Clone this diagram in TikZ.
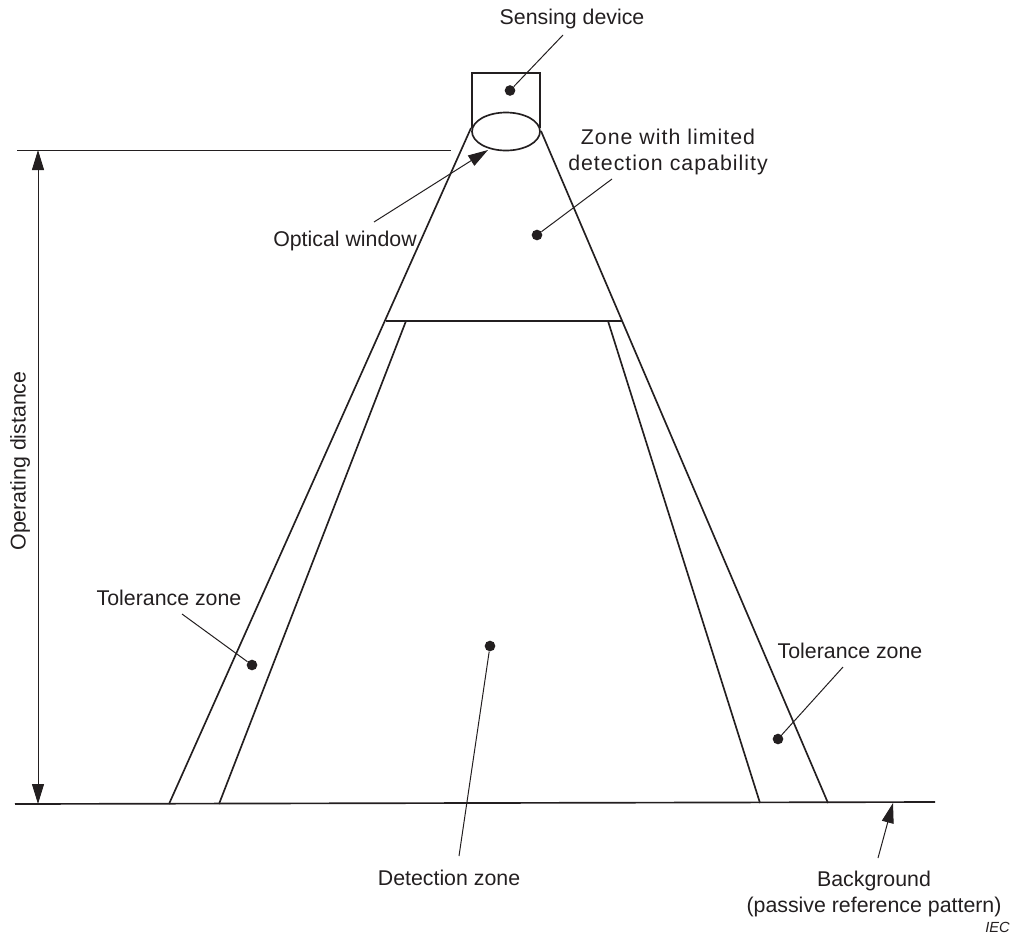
\documentclass[tikz,border=0pt]{standalone}
\usepackage{fontspec}
\setmainfont{Liberation Sans}
\usetikzlibrary{arrows.meta,shapes.geometric}
\definecolor{ink}{RGB}{35,31,32}
\tikzset{
  ln/.style={draw=ink,line width=1.25pt},
  thin ln/.style={draw=ink,line width=0.75pt},
  lbl/.style={inner sep=0pt,text=ink,font=\fontsize{16}{19.5}\selectfont,align=center},
  dotm/.style={circle,fill=ink,draw=none,minimum size=8pt,inner sep=0pt},
  tip/.style={-{Triangle[length=15pt,width=9pt]}},
  tips/.style={{Triangle[length=15pt,width=9pt]}-{Triangle[length=15pt,width=9pt]}}
}
\begin{document}
\begin{tikzpicture}[x=0.75pt,y=-0.75pt]
\useasboundingbox (0,0) rectangle (1013,936);
% coordinates
\coordinate (boxTL) at (472,128);
\coordinate (boxTLt) at (472,73);
\coordinate (boxTRt) at (540,73);
\coordinate (boxTR) at (540,128);
\coordinate (outL) at (471,128);
\coordinate (outLb) at (169,804);
\coordinate (outR) at (541,131);
\coordinate (outRb) at (828,803);
\coordinate (midL) at (386,321);
\coordinate (midR) at (622,321);
\coordinate (inL) at (406,321);
\coordinate (inLb) at (219,804);
\coordinate (inR) at (608,321);
\coordinate (inRb) at (760,803);
\coordinate (baseL) at (15,804);
\coordinate (baseR) at (935,802);
\coordinate (dimL) at (17,150);
\coordinate (dimR) at (451,150);
\coordinate (arrT) at (38,150);
\coordinate (arrB) at (38,804);
% device
\draw[ln] (boxTL) -- (boxTLt) -- (boxTRt) -- (boxTR);
\node[ln,draw,ellipse,fill=none,minimum width=51pt,minimum height=28.5pt,inner sep=0pt] (win) at (506,131.5) {};
% zones
\draw[ln] (outL) -- (outLb);
\draw[ln] (outR) -- (outRb);
\draw[ln] (midL) -- (midR);
\draw[ln] (inL) -- (inLb);
\draw[ln] (inR) -- (inRb);
\draw[ln] (baseL) -- (baseR);
\draw[thin ln] (dimL) -- (dimR);
\draw[thin ln,tips] (arrT) -- (arrB);
% labels
\node[lbl] (sens) at (572,19) {Sensing device};
\node[lbl,font=\fontsize{16}{19.5}\selectfont\addfontfeature{LetterSpace=4.7}] (zone) at (668,152) {Zone with limited\\detection capability};
\node[lbl,anchor=east] (opt) at (417,241) {Optical window};
\node[lbl,rotate=90] (oper) at (20,461) {Operating distance};
\node[lbl] (tolL) at (169,598) {Tolerance zone};
\node[lbl] (tolR) at (850,651) {Tolerance zone};
\node[lbl] (det) at (449,878) {Detection zone};
\node[lbl] (bg) at (874,894) {Background\\(passive reference pattern)};
\node[inner sep=0pt,text=ink,font=\fontsize{11}{12}\itshape\selectfont,anchor=east] (iec) at (1010,927) {IEC};
% dots
\node[dotm] (dSens) at (510,90.5) {};
\node[dotm] (dZone) at (537,235) {};
\node[dotm] (dTolL) at (252,665) {};
\node[dotm] (dDet) at (490,646) {};
\node[dotm] (dTolR) at (778,739) {};
% leader ends
\coordinate (lSens) at (563,35);
\coordinate (lZone) at (612,179);
\coordinate (lTolL) at (182,614);
\coordinate (lDet) at (459,856);
\coordinate (lTolR) at (843,667);
\coordinate (lOpt) at (374,222);
\coordinate (tOpt) at (488,150);
\coordinate (lBg) at (878,858);
\coordinate (tBg) at (893,803);
\draw[thin ln] (dSens) -- (lSens);
\draw[thin ln] (dZone) -- (lZone);
\draw[thin ln] (dTolL) -- (lTolL);
\draw[thin ln] (dDet) -- (lDet);
\draw[thin ln] (dTolR) -- (lTolR);
\draw[thin ln,tip] (lOpt) -- (tOpt);
\draw[thin ln,tip] (lBg) -- (tBg);
\end{tikzpicture}
\end{document}
